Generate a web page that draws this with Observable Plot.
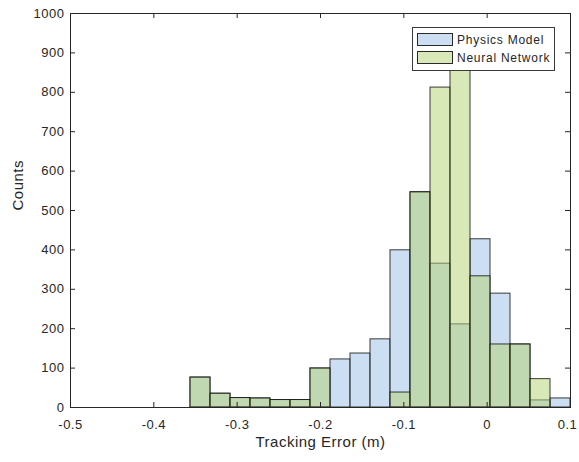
<!DOCTYPE html>
<html>
<head>
<meta charset="utf-8">
<script src="https://cdn.jsdelivr.net/npm/d3@7"></script>
<script src="https://cdn.jsdelivr.net/npm/@observablehq/plot@0.6"></script>
<style>
  body { margin: 0; background: #fff; }
  #chart { position: relative; width: 579px; height: 462px; font-family: "Liberation Sans", Arial, Helvetica, sans-serif; }
  #chart svg { position: absolute; left: 0; top: 0; }
  .legend { position: absolute; left: 412px; top: 27px; width: 143px; height: 44px; box-sizing: border-box;
            border: 1px solid #3a3a3a; background: #fff; }
  .legend .row { position: absolute; left: 4px; height: 13px; display: flex; align-items: center;
                 font-size: 12px; letter-spacing: 0.75px; color: #262626; white-space: nowrap; }
  .legend .sw { width: 36px; height: 13px; box-sizing: border-box; border: 1px solid #2a2a2a; margin-right: 4px; }
</style>
</head>
<body>
<div id="chart"></div>
<script>
// Histogram bin edges (m) and counts per bin for each model
const binEdges = [-0.356, -0.332, -0.308, -0.284, -0.26, -0.236, -0.212, -0.188, -0.164, -0.14,
                  -0.116, -0.092, -0.068, -0.044, -0.02, 0.004, 0.028, 0.052, 0.076, 0.1];
const physicsCounts = [76, 35, 24, 23, 19, 19, 99, 122, 137, 173, 399, 545, 365, 211, 427, 289, 160, 18, 23];
const neuralCounts  = [76, 35, 24, 23, 19, 19, 99, 0, 0, 0, 38, 547, 812, 905, 333, 160, 160, 72, 0];
const seriesNames = ["Physics Model", "Neural Network"];
const seriesColors = ["#a9c8ea", "#b4d270"];
const seriesOpacity = [0.6, 0.5];
const xTicks = [-0.5, -0.4, -0.3, -0.2, -0.1, 0, 0.1];
const yTicks = [0, 100, 200, 300, 400, 500, 600, 700, 800, 900, 1000];

const W = 579, H = 462;
const margin = {top: 13, right: 9, bottom: 55, left: 70};
const innerW = W - margin.left - margin.right;
const innerH = H - margin.top - margin.bottom;
const tickLen = 5;
const axisColor = "#262626";

const toBins = (counts, name) => counts
  .map((c, i) => ({x1: binEdges[i], x2: binEdges[i + 1], count: c, series: name}))
  .filter(d => d.count > 0);

const barOptions = (i) => ({
  x1: "x1", x2: "x2", y1: () => 0, y2: "count",
  fill: seriesColors[i], fillOpacity: seriesOpacity[i],
  stroke: "#1a1a1a", strokeOpacity: 0.85, strokeWidth: 1
});

const xLabelOptions = {tickSize: 0, tickPadding: 12, tickFormat: d => String(d), label: null, fill: axisColor};
const lastX = xTicks[xTicks.length - 1];

const chart = Plot.plot({
  width: W,
  height: H,
  marginTop: margin.top,
  marginRight: margin.right,
  marginBottom: margin.bottom,
  marginLeft: margin.left,
  x: {domain: [-0.5, 0.1]},
  y: {domain: [0, 1000]},
  style: `font-family: "Liberation Sans", Arial, Helvetica, sans-serif; font-size: 13px; letter-spacing: 0.5px; color: ${axisColor}; background: #fff; overflow: visible;`,
  marks: [
    Plot.rect(toBins(physicsCounts, seriesNames[0]), barOptions(0)),
    Plot.rect(toBins(neuralCounts, seriesNames[1]), barOptions(1)),
    Plot.frame({stroke: axisColor, strokeWidth: 1}),
    // inward tick marks on all four sides
    Plot.tickX(xTicks, {x: d => d, insetTop: innerH - tickLen, stroke: axisColor}),
    Plot.tickX(xTicks, {x: d => d, insetBottom: innerH - tickLen, stroke: axisColor}),
    Plot.tickY(yTicks, {y: d => d, insetRight: innerW - tickLen, stroke: axisColor}),
    Plot.tickY(yTicks, {y: d => d, insetLeft: innerW - tickLen, stroke: axisColor}),
    Plot.axisX(xTicks.slice(0, -1), xLabelOptions),
    // the rightmost label sits against the page edge, so nudge it inward
    Plot.axisX([lastX], {...xLabelOptions, dx: -3}),
    Plot.axisY(yTicks, {tickSize: 0, tickPadding: 6, tickFormat: d => String(d), label: null, fill: axisColor}),
    Plot.text(["Tracking Error (m)"], {text: d => d, frameAnchor: "bottom", dy: 39, fontSize: 15, fill: axisColor, style: "letter-spacing: 1px"}),
    Plot.text(["Counts"], {text: d => d, frameAnchor: "left", dx: -52, rotate: -90, fontSize: 15, fill: axisColor})
  ]
});

const root = document.getElementById("chart");
root.appendChild(chart);

// Legend box in the upper right of the axes
const legend = document.createElement("div");
legend.className = "legend";
seriesNames.forEach((name, i) => {
  const row = document.createElement("div");
  row.className = "row";
  row.style.top = (5 + i * 18) + "px";
  const sw = document.createElement("span");
  sw.className = "sw";
  sw.style.background = d3.color(seriesColors[i]).copy({opacity: seriesOpacity[i]}).formatRgb();
  row.appendChild(sw);
  row.appendChild(document.createTextNode(name));
  legend.appendChild(row);
});
root.appendChild(legend);
</script>
</body>
</html>
